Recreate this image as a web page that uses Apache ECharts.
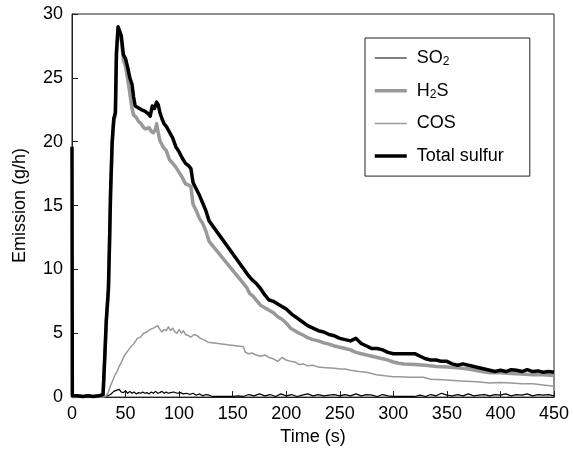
<!DOCTYPE html>
<html>
<head>
<meta charset="utf-8">
<script src="https://cdn.jsdelivr.net/npm/echarts@6/dist/echarts.min.js"></script>
<style>
  html, body { margin: 0; padding: 0; background: #fff; }
  #main { width: 573px; height: 451px; }
</style>
</head>
<body>
<div id="main"></div>
<script>
// emission traces (time in s, emission in g/h)
var so2T = [0, 10, 20, 30, 33, 36, 39, 42, 44, 46, 48, 50, 52, 54, 56, 58, 60, 62, 64, 66, 68, 70, 72, 74, 76, 78, 80, 82, 84, 86, 88, 90, 92, 95, 98, 101, 104, 107, 110, 113, 116, 119, 122, 125, 128, 131, 140, 150, 155, 160, 165, 170, 175, 180, 185, 190, 195, 200, 205, 210, 215, 220, 225, 230, 235, 240, 245, 250, 255, 260, 265, 270, 275, 280, 285, 290, 295, 300, 310, 320, 325, 330, 335, 340, 345, 350, 355, 360, 365, 370, 375, 380, 385, 390, 395, 400, 405, 410, 415, 420, 425, 430, 435, 440, 445, 450];
var so2V = [0.05, 0.05, 0.05, 0.05, 0.1, 0.2, 0.45, 0.55, 0.6, 0.4, 0.35, 0.5, 0.3, 0.45, 0.3, 0.4, 0.25, 0.35, 0.3, 0.4, 0.3, 0.35, 0.25, 0.4, 0.3, 0.45, 0.3, 0.35, 0.45, 0.3, 0.4, 0.3, 0.35, 0.4, 0.3, 0.35, 0.25, 0.3, 0.2, 0.3, 0.15, 0.25, 0.1, 0.2, 0.15, 0.05, 0.05, 0.05, 0.1, 0.05, 0.2, 0.1, 0.25, 0.1, 0.2, 0.05, 0.25, 0.1, 0.2, 0.05, 0.15, 0.25, 0.1, 0.2, 0.1, 0.15, 0.2, 0.1, 0.2, 0.1, 0.25, 0.1, 0.2, 0.15, 0.05, 0.2, 0.1, 0.05, 0.05, 0.05, 0.15, 0.05, 0.2, 0.1, 0.3, 0.15, 0.1, 0.2, 0.1, 0.25, 0.1, 0.15, 0.2, 0.1, 0.2, 0.15, 0.25, 0.1, 0.2, 0.15, 0.25, 0.1, 0.2, 0.15, 0.2, 0.1];

var h2sT = [0, 10, 20, 29, 30.5, 32, 34, 35, 36, 37.5, 39, 40.5, 41.5, 43, 44.5, 46, 48, 50, 52, 54, 56, 57.5, 60, 62, 64.5, 67, 69, 72, 74, 76, 78, 79, 80, 82, 85, 88, 91, 94, 97, 100, 103, 106, 109, 111, 113, 116, 119, 122, 125, 128, 163, 166, 169, 172, 176, 180, 184, 188, 192, 196, 200, 204, 208, 212, 216, 220, 225, 230, 235, 240, 245, 250, 255, 260, 265, 270, 275, 280, 285, 290, 295, 300, 305, 310, 320, 330, 340, 350, 360, 370, 380, 390, 400, 410, 420, 430, 440, 450];
var h2sV = [0.05, 0.05, 0.05, 0.1, 2.8, 5.8, 8.3, 11.8, 15.8, 19.8, 21.6, 22.1, 26.8, 28.7, 28.6, 28.0, 26.4, 25.9, 24.9, 23.8, 22.6, 22.1, 21.9, 21.6, 21.4, 21.1, 21.0, 21.1, 20.8, 20.7, 21.0, 21.4, 20.9, 20.1, 19.6, 19.3, 18.6, 18.3, 18.0, 17.6, 17.2, 16.7, 16.6, 16.5, 15.1, 14.6, 14.0, 13.6, 13.0, 12.2, 8.6, 8.1, 7.9, 7.6, 7.2, 7.0, 6.8, 6.6, 6.3, 6.1, 5.8, 5.4, 5.2, 5.0, 4.85, 4.65, 4.5, 4.4, 4.25, 4.15, 4.0, 3.9, 3.8, 3.7, 3.5, 3.4, 3.3, 3.2, 3.1, 3.0, 2.9, 2.75, 2.65, 2.6, 2.55, 2.5, 2.4, 2.35, 2.3, 2.2, 2.05, 1.9, 1.9, 1.85, 1.8, 1.75, 1.75, 1.7];

var cosT = [0, 30, 32, 34, 36, 38, 40, 42, 44, 46, 48, 50, 52, 55, 58, 61, 64, 67, 70, 73, 76, 78, 80, 82, 84, 86, 88, 90, 92, 94, 96, 98, 100, 102, 104, 106, 109, 111, 114, 117, 120, 123, 127, 160, 162, 165, 168, 172, 176, 180, 184, 188, 192, 196, 200, 204, 208, 212, 216, 220, 225, 230, 237, 245, 250, 255, 260, 268, 275, 284, 290, 300, 306, 315, 328, 335, 346, 356, 368, 378, 390, 400, 410, 420, 430, 440, 450];
var cosV = [0, 0, 0.1, 0.4, 0.9, 1.3, 1.7, 2.0, 2.4, 2.7, 3.1, 3.4, 3.6, 3.95, 4.2, 4.6, 4.7, 5.0, 5.1, 5.3, 5.4, 5.5, 5.6, 5.3, 5.1, 5.3, 5.2, 5.5, 5.2, 5.4, 5.1, 5.0, 5.3, 5.0, 5.2, 4.9, 4.8, 4.7, 4.9, 4.8, 4.6, 4.5, 4.3, 3.95, 3.5, 3.4, 3.45, 3.3, 3.2, 3.3, 3.1, 3.0, 2.8, 3.1, 2.9, 2.8, 2.75, 2.55, 2.6, 2.45, 2.5, 2.35, 2.3, 2.25, 2.2, 2.2, 2.1, 2.0, 1.95, 1.75, 1.7, 1.6, 1.6, 1.55, 1.55, 1.4, 1.35, 1.3, 1.25, 1.2, 1.1, 1.15, 1.1, 1.05, 1.05, 0.95, 0.85];

var totalT = [0, 0.3, 5, 10, 15, 20, 25, 29, 30.5, 32, 34, 35, 36, 37.5, 39, 40.5, 41.5, 43, 44.5, 46, 48, 50, 52, 54, 56, 57.5, 59, 61, 63, 65, 68, 71, 73, 75, 77, 79, 80.5, 82, 84, 86, 88, 90, 92, 94, 97, 100, 103, 106, 109, 111, 113, 116, 119, 122, 125, 128, 164, 168, 172, 176, 180, 184, 188, 192, 196, 200, 205, 210, 215, 220, 225, 230, 235, 240, 245, 250, 255, 260, 265, 270, 275, 280, 285, 290, 295, 300, 310, 320, 325, 330, 335, 340, 345, 350, 355, 360, 365, 370, 375, 380, 385, 390, 395, 400, 405, 410, 415, 420, 425, 430, 435, 440, 445, 450];
var totalV = [19.6, 0.1, 0.1, 0.05, 0.1, 0.05, 0.1, 0.2, 3.0, 6.0, 8.5, 12.0, 16.0, 20.0, 21.8, 22.3, 27.0, 29.0, 28.9, 28.3, 26.8, 26.5, 25.8, 25.0, 24.5, 23.5, 22.8, 22.7, 22.6, 22.5, 22.4, 22.2, 22.0, 22.8, 22.6, 23.1, 22.9, 22.3, 21.8, 21.4, 21.2, 20.9, 20.6, 20.3, 19.6, 19.2, 18.7, 18.3, 18.1, 17.9, 16.8, 16.3, 15.8, 15.2, 14.6, 13.8, 9.6, 9.2, 8.9, 8.5, 8.0, 7.6, 7.5, 7.3, 7.1, 6.9, 6.5, 6.2, 5.9, 5.6, 5.4, 5.2, 5.1, 4.9, 4.8, 4.6, 4.5, 4.4, 4.6, 4.2, 4.0, 3.8, 3.8, 3.7, 3.5, 3.4, 3.4, 3.4, 3.2, 3.0, 2.9, 2.9, 2.8, 2.8, 2.6, 2.5, 2.6, 2.5, 2.4, 2.3, 2.2, 2.1, 2.0, 2.1, 2.0, 2.15, 2.1, 2.0, 2.15, 2.0, 2.05, 1.95, 2.0, 1.95];

var xTicks = [0, 50, 100, 150, 200, 250, 300, 350, 400, 450];
var yTicks = [0, 5, 10, 15, 20, 25, 30];

function pairs (ts, vs) {
  var out = [];
  for (var i = 0; i < ts.length; i++) {
    out.push([ts[i], vs[i]]);
  }
  return out;
}

var FONT = 'Liberation Sans';
var myChart = echarts.init(document.getElementById('main'));

var lineSeries = function (name, ts, vs, color, width) {
  return {
    name: name,
    type: 'line',
    data: pairs(ts, vs),
    symbol: 'none',
    showSymbol: false,
    animation: false,
    lineStyle: { color: color, width: width, join: 'round' },
    itemStyle: { color: color }
  };
};

// legend entry: just the line, no marker
var legendItem = function (name, color, width) {
  return {
    name: name,
    lineStyle: { color: color, width: width },
    itemStyle: { opacity: 0 }
  };
};

var options = {
  animation: false,
  backgroundColor: '#fff',
  grid: {
    left: 72, right: 19, top: 14, bottom: 50,
    show: true, borderColor: '#222', borderWidth: 1
  },
  legend: {
    orient: 'vertical',
    left: 365,
    top: 38,
    padding: [10, 26, 10, 8],
    itemWidth: 32,
    itemHeight: 20,
    itemGap: 12.7,
    borderColor: '#222',
    borderWidth: 1,
    backgroundColor: '#fff',
    textStyle: {
      fontFamily: FONT,
      fontSize: 18,
      color: '#000',
      lineHeight: 20,
      padding: [0, 0, 0, 5],
      rich: {
        sub: { fontFamily: FONT, fontSize: 12, lineHeight: 12, verticalAlign: 'bottom', color: '#000' }
      }
    },
    formatter: function (name) {
      if (name === 'SO2') return 'SO{sub|2}';
      if (name === 'H2S') return 'H{sub|2}S';
      return name;
    },
    data: [
      legendItem('SO2', '#000', 1.2),
      legendItem('H2S', '#999', 3.5),
      legendItem('COS', '#999', 1.5),
      legendItem('Total sulfur', '#000', 3.5)
    ]
  },
  xAxis: {
    type: 'value',
    min: xTicks[0],
    max: xTicks[xTicks.length - 1],
    interval: 50,
    name: 'Time (s)',
    nameLocation: 'middle',
    nameGap: 26,
    nameTextStyle: { fontFamily: FONT, fontSize: 18, color: '#000' },
    axisLine: { lineStyle: { color: '#222', width: 1 } },
    axisTick: { inside: true, length: 6, lineStyle: { color: '#222' } },
    axisLabel: { fontFamily: FONT, fontSize: 18, color: '#000', margin: 8 },
    splitLine: { show: false }
  },
  yAxis: {
    type: 'value',
    min: yTicks[0],
    max: yTicks[yTicks.length - 1],
    interval: 5,
    name: 'Emission (g/h)',
    nameLocation: 'middle',
    nameGap: 43,
    nameTextStyle: { fontFamily: FONT, fontSize: 18, color: '#000' },
    axisLine: { show: true, lineStyle: { color: '#222', width: 1 } },
    axisTick: { show: true, inside: true, length: 6, lineStyle: { color: '#222' } },
    axisLabel: { fontFamily: FONT, fontSize: 18, color: '#000', margin: 9 },
    splitLine: { show: false }
  },
  series: [
    lineSeries('SO2', so2T, so2V, '#000', 1.2),
    lineSeries('H2S', h2sT, h2sV, '#999', 3.5),
    lineSeries('COS', cosT, cosV, '#999', 1.5),
    lineSeries('Total sulfur', totalT, totalV, '#000', 3.5)
  ]
};

myChart.setOption(options);
</script>
</body>
</html>
